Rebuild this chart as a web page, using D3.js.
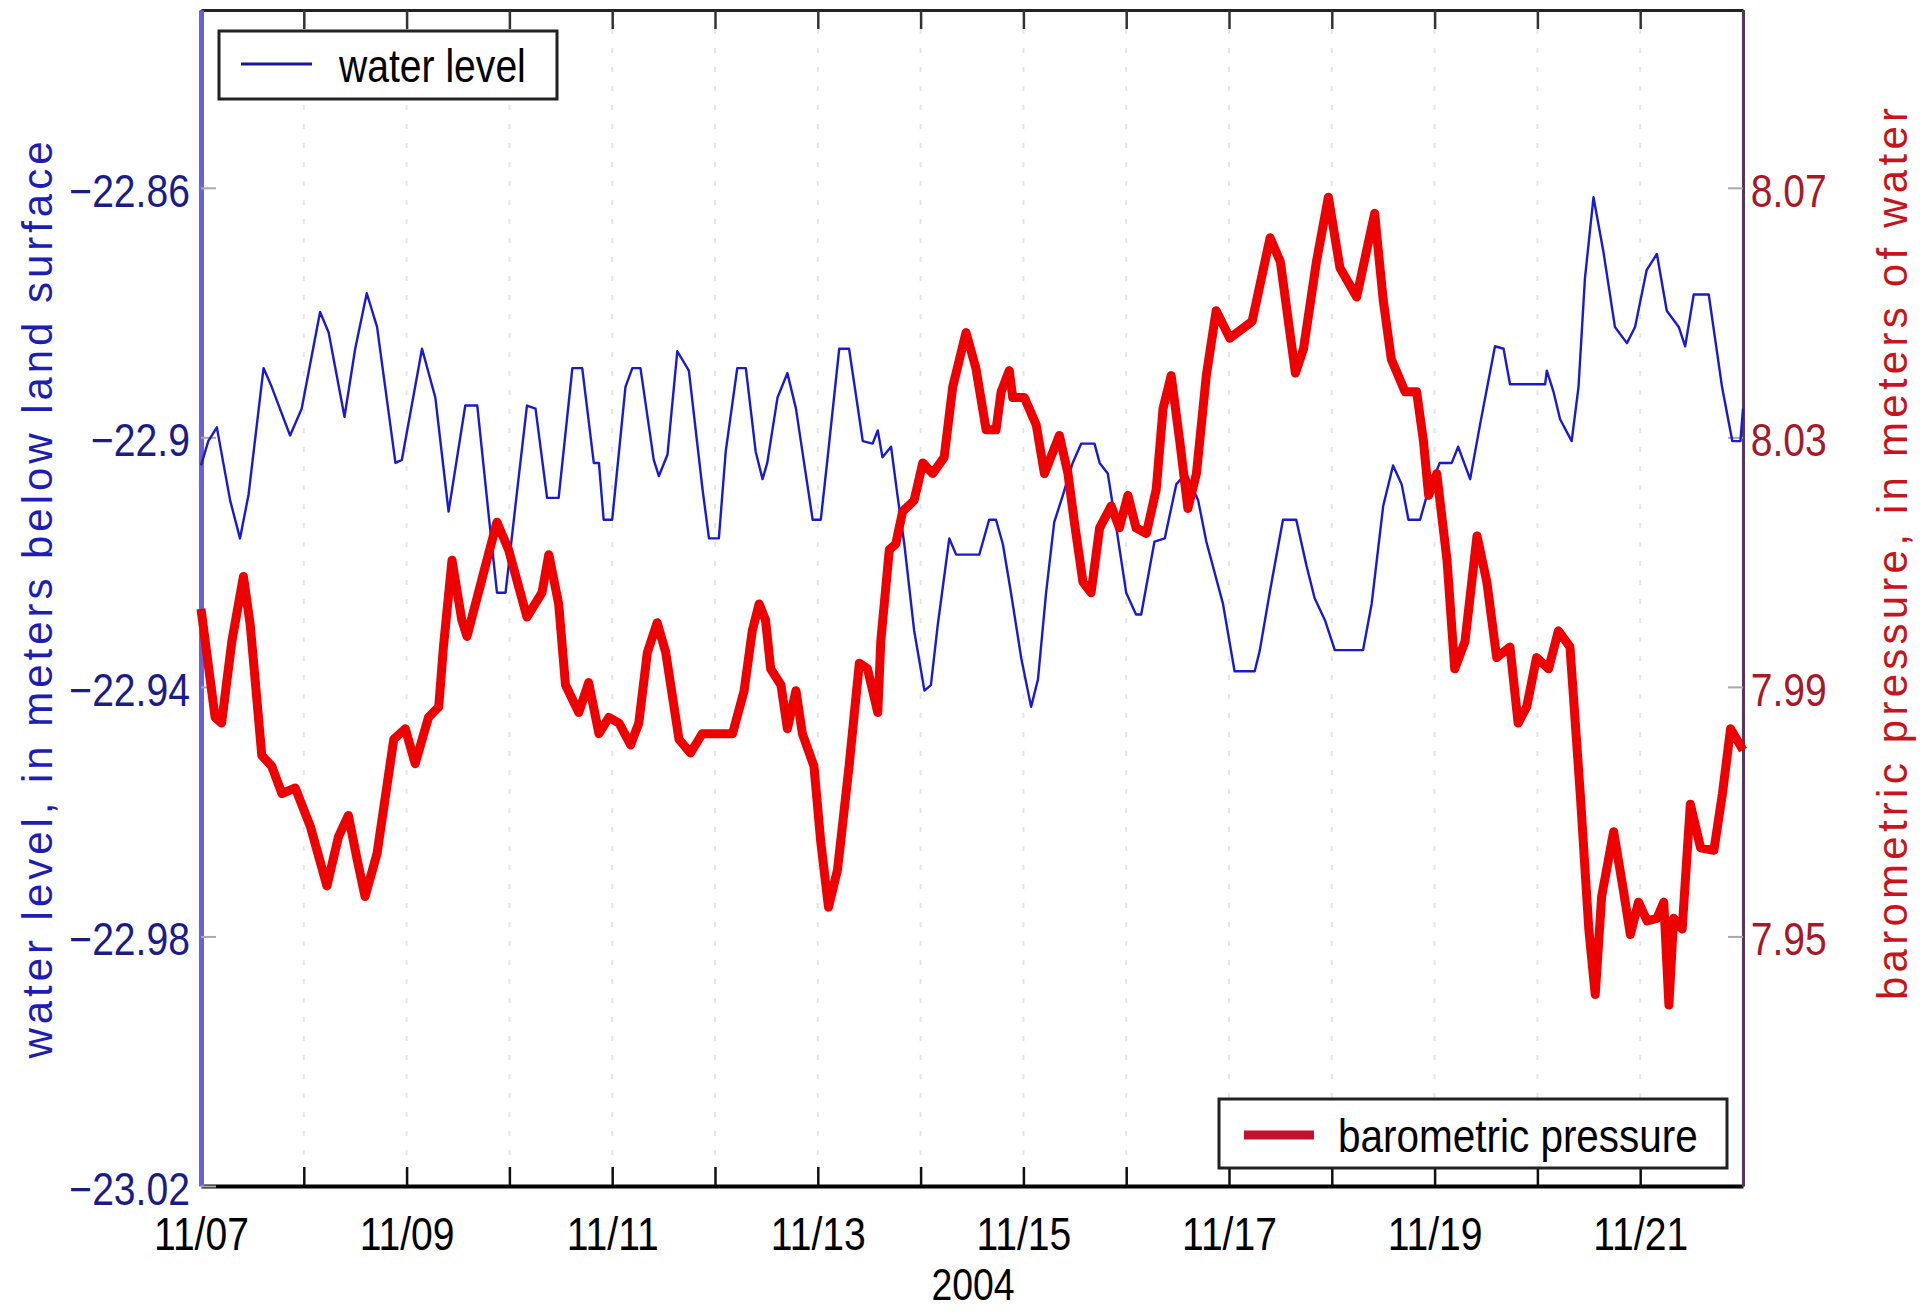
<!DOCTYPE html>
<html>
<head>
<meta charset="utf-8">
<script src="https://cdn.jsdelivr.net/npm/d3@7"></script>
<style>
  body { margin: 0; background: #fff; }
  text { font-family: "Liberation Sans", Arial, Helvetica, sans-serif; }
</style>
</head>
<body>
<div class="chart"></div>
<script>
// data: hours since 2004-11-07 00:00 and readings

var waterHours = [0,1.7,3.7,6.8,9.1,11.1,14.6,16.5,20.8,23.5,27.8,29.8,33.5,36.0,38.7,41.1,45.4,46.9,51.6,54.7,
  57.8,61.7,64.5,67.2,69.1,71.1,73.4,76.1,78.1,80.8,83.5,86.7,89.0,91.7,92.9,94.0,96.0,99.1,100.7,102.6,
  105.7,106.9,108.9,111.2,113.9,117.1,118.6,120.9,122.5,125.2,127.2,129.5,131.1,132.2,134.6,136.9,138.9,140.8,142.8,144.7,
  146.3,149.0,151.3,154.5,156.8,158.0,159.1,161.1,162.6,164.2,166.5,168.9,170.4,172.0,174.7,176.3,181.7,184.0,185.6,187.2,
  189.1,191.5,193.8,195.4,197.3,199.2,201.2,203.5,205.5,208.6,209.8,211.7,213.7,216.0,218.3,219.5,222.6,225.0,227.7,230.0,
  232.8,234.7,238.6,241.3,246.0,247.2,249.5,252.6,255.7,258.1,260.0,262.4,264.7,271.3,273.3,276.0,278.3,280.3,281.9,284.6,
  286.2,289.2,292.0,293.5,296.3,298.6,302.1,304.1,305.6,313.8,314.2,315.8,317.3,320.0,321.6,323.1,325.1,327.4,330.1,332.9,
  334.8,337.5,339.9,342.2,345.0,346.5,348.5,352.0,355.1,357.5,359.4,360.0];

var waterLevel = [-22.9045,-22.9006,-22.8984,-22.9101,-22.9162,-22.9092,-22.8889,-22.8919,-22.8997,-22.8954,
  -22.8799,-22.8832,-22.8967,-22.8858,-22.8769,-22.8823,-22.9041,-22.9036,-22.8858,-22.8936,
  -22.9119,-22.8949,-22.8949,-22.9127,-22.9249,-22.9249,-22.911,-22.8949,-22.8954,-22.9097,
  -22.9097,-22.8889,-22.8889,-22.9041,-22.9041,-22.9132,-22.9132,-22.8919,-22.8889,-22.8889,
  -22.9036,-22.9062,-22.9028,-22.8862,-22.8893,-22.9084,-22.9162,-22.9162,-22.9023,-22.8889,
  -22.8889,-22.9023,-22.9067,-22.9041,-22.8936,-22.8897,-22.8954,-22.9041,-22.9132,-22.9132,
  -22.9032,-22.8858,-22.8858,-22.9006,-22.901,-22.8989,-22.9032,-22.9015,-22.9093,-22.9171,
  -22.931,-22.9406,-22.9397,-22.9301,-22.9162,-22.9188,-22.9188,-22.9132,-22.9132,-22.9171,
  -22.9249,-22.9354,-22.9432,-22.9388,-22.9249,-22.9136,-22.9093,-22.9041,-22.901,-22.901,
  -22.9041,-22.9058,-22.9145,-22.9249,-22.9284,-22.9284,-22.9167,-22.9162,-22.9075,-22.9058,
  -22.9101,-22.9167,-22.9267,-22.9375,-22.9375,-22.9341,-22.9249,-22.9132,-22.9132,-22.9206,
  -22.9258,-22.9293,-22.9341,-22.9341,-22.9267,-22.911,-22.9045,-22.9075,-22.9132,-22.9132,
  -22.9093,-22.9041,-22.9041,-22.9015,-22.9067,-22.898,-22.8854,-22.8858,-22.8915,-22.8915,
  -22.8893,-22.8928,-22.8971,-22.9006,-22.8919,-22.8745,-22.8615,-22.8702,-22.8823,-22.8849,
  -22.8823,-22.8732,-22.8706,-22.8797,-22.8823,-22.8854,-22.8771,-22.8771,-22.8919,-22.9006,
  -22.9006,-22.8954];

var baroHours = [0,3.3,4.8,7.2,9.9,11.5,14.2,16.5,18.9,22.0,25.5,29.4,32.1,34.4,36.4,38.3,41.1,45.0,47.7,50.0,
  53.1,55.5,56.6,58.6,60.9,62.1,66.4,69.1,71.8,76.1,79.6,81.2,83.5,85.1,88.2,90.5,92.9,95.2,97.6,100.3,
  102.2,104.2,106.5,108.5,111.6,114.3,117.0,124.1,126.8,128.7,130.3,131.8,133.0,135.4,136.9,138.9,140.4,143.1,144.7,146.5,
  148.6,151.3,153.7,155.6,158.0,158.7,160.7,162.2,163.8,166.5,168.5,170.8,173.5,175.5,178.6,180.9,183.3,185.6,186.8,188.7,
  189.5,192.2,195.0,196.9,200.4,202.4,203.9,205.9,207.8,209.8,212.5,214.4,216.4,218.3,220.7,223.0,224.6,226.5,228.5,230.4,
  232.4,234.7,237.0,240.2,245.4,249.6,252.0,255.5,257.4,260.4,263.2,265.9,269.8,274.0,276.0,277.9,281.1,283.8,285.4,286.6,
  288.5,290.9,292.7,295.1,297.9,300.2,302.5,305.6,307.5,309.5,311.8,314.6,316.9,319.6,320.4,322.0,324.0,325.5,327.0,329.8,
  332.1,333.7,335.6,337.6,339.9,341.5,342.7,343.8,345.8,347.7,350.1,353.2,355.2,357.1,360];

var baroPressure = [8.0025,7.9851,7.9842,7.9973,8.0077,7.9999,7.979,7.9773,7.9729,7.9738,
  7.9677,7.9581,7.966,7.9694,7.9625,7.9564,7.9633,7.9816,7.9833,7.9777,
  7.9851,7.9868,7.9964,8.0103,8.0007,7.9981,8.0094,8.0164,8.012,8.0012,
  8.0051,8.0112,8.0033,7.9903,7.9859,7.9907,7.9825,7.9851,7.9842,7.9807,
  7.9842,7.9955,8.0003,7.9955,7.9816,7.9794,7.9825,7.9825,7.9894,7.999,
  8.0033,8.0007,7.9929,7.9903,7.9833,7.9894,7.9825,7.9773,7.9651,7.9547,
  7.9607,7.9773,7.9938,7.9929,7.9859,7.9973,8.012,8.0129,8.0181,8.0199,
  8.0259,8.0242,8.0268,8.0381,8.0468,8.0411,8.0312,8.0312,8.0373,8.0407,
  8.0364,8.0364,8.032,8.0242,8.0303,8.0242,8.0164,8.0068,8.0051,8.0155,
  8.019,8.0155,8.0207,8.0155,8.0146,8.0216,8.0346,8.0399,8.0294,8.0186,
  8.0242,8.0399,8.0503,8.0459,8.0486,8.062,8.0581,8.0403,8.0442,8.0581,
  8.0685,8.0572,8.0525,8.0659,8.052,8.0425,8.0373,8.0373,8.0294,8.0207,
  8.0242,8.0103,7.9929,7.9973,8.0142,8.0068,7.9947,7.9964,7.9842,7.9868,
  7.9947,7.9929,7.999,7.9964,7.9886,7.9729,7.9512,7.9407,7.9564,7.9668,
  7.9573,7.9503,7.9555,7.9525,7.9529,7.9555,7.939,7.9529,7.9512,7.9712,
  7.9642,7.9638,7.9729,7.9833,7.9799];

var leftTicks = [-23.02, -22.98, -22.94, -22.9, -22.86];
var rightTicks = [7.95, 7.99, 8.03, 8.07];
var leftDomain = [-23.02, -22.8315];
var rightDomain = [7.91, 8.0985];
var startDate = Date.UTC(2004, 10, 7);
var endDate = Date.UTC(2004, 10, 22);

var seriesNames = ["water level", "barometric pressure"];
var leftLabel = "water level, in meters below land surface";
var rightLabel = "barometric pressure, in meters of water";
var yearLabel = "2004";

//svg size and plot box
var svgWidth = 1931;
var svgHeight = 1312;
var plot = { left: 201, right: 1743, top: 10, bottom: 1186 };

var svg = d3.select(".chart").append("svg")
    .attr("width", svgWidth)
    .attr("height", svgHeight);

var xScale = d3.scaleUtc()
    .domain([new Date(startDate), new Date(endDate)])
    .range([plot.left, plot.right]);

var yLeft = d3.scaleLinear().domain(leftDomain).range([plot.bottom, plot.top]);
var yRight = d3.scaleLinear().domain(rightDomain).range([plot.bottom, plot.top]);

function toDate(h) { return new Date(startDate + h * 3600 * 1000); }

var water = waterHours.map(function (h, i) { return { t: toDate(h), v: waterLevel[i] }; });
var baro = baroHours.map(function (h, i) { return { t: toDate(h), v: baroPressure[i] }; });

var days = d3.utcDay.range(new Date(startDate), new Date(endDate + 1));

// faint dotted vertical grid
svg.append("g").selectAll("line")
    .data(days.slice(1, -1))
    .enter().append("line")
    .attr("x1", function (d) { return xScale(d); })
    .attr("x2", function (d) { return xScale(d); })
    .attr("y1", plot.top)
    .attr("y2", plot.bottom)
    .attr("stroke", "#e6e6e6")
    .attr("stroke-width", 2)
    .attr("stroke-dasharray", "5,14");

var fmtDay = d3.utcFormat("%m/%d");
var textScale = "scale(0.85,1)";

// bottom axis
var xAxis = d3.axisBottom(xScale)
    .tickValues(days)
    .tickSizeInner(-19)
    .tickSizeOuter(0)
    .tickPadding(31)
    .tickFormat(function (d) { return d.getUTCDate() % 2 === 1 ? fmtDay(d) : ""; });

var gx = svg.append("g")
    .attr("transform", "translate(0," + plot.bottom + ")")
    .call(xAxis);
gx.select(".domain").attr("stroke", "#000").attr("stroke-width", 4);
gx.selectAll(".tick line").attr("stroke", "#111").attr("stroke-width", 2.5);
gx.selectAll(".tick text")
    .attr("fill", "#000")
    .style("font-size", "46px")
    .attr("transform", textScale);

// top axis, ticks only
var gTop = svg.append("g")
    .attr("transform", "translate(0," + plot.top + ")")
    .call(d3.axisTop(xScale).tickValues(days).tickSizeInner(-19).tickSizeOuter(0).tickFormat(""));
gTop.select(".domain").attr("stroke", "#222").attr("stroke-width", 3);
gTop.selectAll(".tick line").attr("stroke", "#333").attr("stroke-width", 2.5);

// left axis
var fmtLeft = function (d) { return String(+d.toFixed(2)).replace("-", "\u2212"); };
var gLeft = svg.append("g")
    .attr("transform", "translate(" + plot.left + ",0)")
    .call(d3.axisLeft(yLeft).tickValues(leftTicks).tickSizeInner(-15).tickSizeOuter(0)
        .tickPadding(13).tickFormat(fmtLeft));
gLeft.select(".domain").attr("stroke", "#6a60dc").attr("stroke-width", 5);
gLeft.selectAll(".tick line").attr("stroke", "#aaa").attr("stroke-width", 2);
gLeft.selectAll(".tick text")
    .attr("fill", "#1c1c86")
    .attr("dy", "0.4em")
    .style("font-size", "46px")
    .attr("transform", textScale);

// right axis
var gRight = svg.append("g")
    .attr("transform", "translate(" + plot.right + ",0)")
    .call(d3.axisRight(yRight).tickValues(rightTicks).tickSizeInner(-15).tickSizeOuter(0)
        .tickPadding(9).tickFormat(d3.format(".2f")));
gRight.select(".domain").attr("stroke", "#5c3458").attr("stroke-width", 3);
gRight.selectAll(".tick line").attr("stroke", "#aaa").attr("stroke-width", 2);
gRight.selectAll(".tick text")
    .attr("fill", "#a8182a")
    .attr("dy", "0.4em")
    .style("font-size", "46px")
    .attr("transform", textScale);

// lines
var waterLine = d3.line()
    .x(function (d) { return xScale(d.t); })
    .y(function (d) { return yLeft(d.v); });
var baroLine = d3.line()
    .x(function (d) { return xScale(d.t); })
    .y(function (d) { return yRight(d.v); });

svg.append("path")
    .datum(water)
    .attr("d", waterLine)
    .attr("fill", "none")
    .attr("stroke", "#1a1ad0")
    .attr("stroke-width", 2.4)
    .attr("stroke-linejoin", "round");

svg.append("path")
    .datum(baro)
    .attr("d", baroLine)
    .attr("fill", "none")
    .attr("stroke", "#ee0000")
    .attr("stroke-width", 9)
    .attr("stroke-linejoin", "round");

// axis titles
svg.append("text")
    .attr("transform", "translate(37,600) rotate(-90)")
    .attr("text-anchor", "middle")
    .attr("dy", "0.35em")
    .attr("textLength", 917)
    .attr("lengthAdjust", "spacing")
    .attr("fill", "#1e1eb4")
    .style("font-size", "42px")
    .text(leftLabel);

svg.append("text")
    .attr("transform", "translate(1892,554) rotate(-90)")
    .attr("text-anchor", "middle")
    .attr("dy", "0.35em")
    .attr("textLength", 892)
    .attr("lengthAdjust", "spacing")
    .attr("fill", "#c8141c")
    .style("font-size", "42px")
    .text(rightLabel);

svg.append("text")
    .attr("x", 973)
    .attr("y", 1300)
    .attr("text-anchor", "middle")
    .attr("fill", "#000")
    .style("font-size", "44px")
    .attr("transform", "translate(146,0) scale(0.85,1)")
    .text(yearLabel);

// legends
var leg1 = svg.append("g");
leg1.append("rect")
    .attr("x", 219).attr("y", 31).attr("width", 338).attr("height", 68)
    .attr("fill", "#fff").attr("stroke", "#222").attr("stroke-width", 3);
leg1.append("line")
    .attr("x1", 241).attr("x2", 312).attr("y1", 64).attr("y2", 64)
    .attr("stroke", "#1616a8").attr("stroke-width", 3);
leg1.append("text")
    .attr("x", 339 / 0.85).attr("y", 82)
    .attr("transform", textScale)
    .attr("fill", "#000")
    .style("font-size", "46px")
    .text(seriesNames[0]);

var leg2 = svg.append("g");
leg2.append("rect")
    .attr("x", 1219).attr("y", 1099).attr("width", 508).attr("height", 69)
    .attr("fill", "#fff").attr("stroke", "#222").attr("stroke-width", 3);
leg2.append("line")
    .attr("x1", 1244).attr("x2", 1314).attr("y1", 1135).attr("y2", 1135)
    .attr("stroke", "#c8102e").attr("stroke-width", 9);
leg2.append("text")
    .attr("x", 1338 / 0.88).attr("y", 1152)
    .attr("transform", "scale(0.88,1)")
    .attr("fill", "#000")
    .style("font-size", "46px")
    .text(seriesNames[1]);
</script>
</body>
</html>
